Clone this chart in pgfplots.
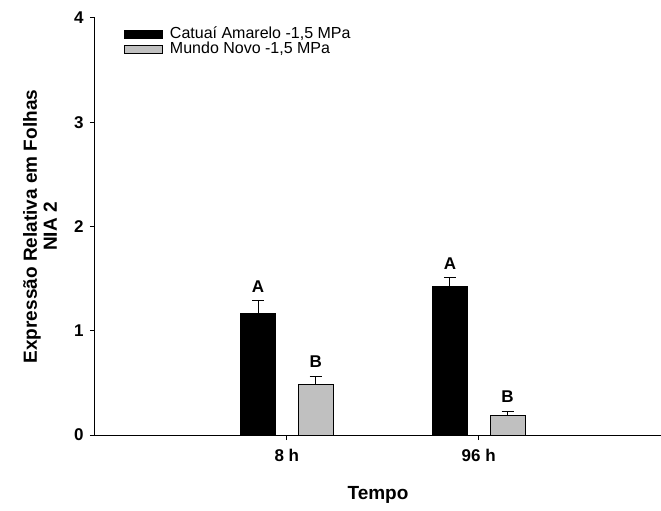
\documentclass[border=0pt]{standalone}
\usepackage{fontspec}
\setmainfont{Liberation Sans}
\usepackage{pgfplots}
\pgfplotsset{compat=1.18}
\definecolor{BarGray}{HTML}{C0C0C0}

\begin{document}
\begin{tikzpicture}
\useasboundingbox (-95pt,-76pt) rectangle (566pt,435pt);
\begin{axis}[
  at={(0,0)}, anchor=south west,
  scale only axis,
  width=566pt, height=417pt,
  xmin=0, xmax=2.95,
  ymin=0, ymax=4,
  axis lines=left,
  axis line style={-, line width=1pt},
  tick style={black, line width=1pt},
  tick align=outside,
  major tick length=5pt,
  xtick={1,2},
  xticklabels={8 h,96 h},
  ytick={0,1,2,3,4},
  minor tick num=0,
  /pgf/number format/assume math mode=true,
  tick label style={font=\bfseries\fontsize{17}{17}\selectfont},
  xticklabel style={yshift=-6pt},
  yticklabel style={xshift=-3pt},
  xlabel={Tempo},
  ylabel={Expressão Relativa em Folhas\\NIA 2},
  label style={font=\bfseries\fontsize{19}{20}\selectfont},
  xlabel style={at={(axis description cs:0.5,0)}, anchor=center, yshift=-60pt},
  ylabel style={at={(axis description cs:0,0.5)}, anchor=center, yshift=55pt, align=center},
  bar width=0.182,
  legend style={
    at={(axis description cs:0,1)}, anchor=north west,
    xshift=26pt, yshift=-7pt,
    draw=none, fill=none,
    font=\fontsize{16}{16}\selectfont,
    row sep=0pt,
    legend cell align=left,
    nodes={inner xsep=7pt, inner ysep=0.5pt, text height=11pt, text depth=3pt},
  },
  legend image code/.code={\draw[#1, line width=0.8pt] (0pt,-4pt) rectangle (38pt,4pt);},
]
\addplot[ybar, bar shift=0, fill=black, draw=black, line width=0.8pt,
  error bars/.cd, y dir=plus, y explicit,
  error bar style={black, line width=1pt},
  error mark options={black, line width=1pt, mark size=6pt, rotate=90}]
  coordinates {(0.85,1.167) +- (0,0.121) (1.85,1.429) +- (0,0.080)};
\addlegendentry{Catuaí Amarelo -1,5 MPa}
\addplot[ybar, bar shift=0, fill=BarGray, draw=black, line width=0.8pt,
  error bars/.cd, y dir=plus, y explicit,
  error bar style={black, line width=1pt},
  error mark options={black, line width=1pt, mark size=6pt, rotate=90}]
  coordinates {(1.15,0.489) +- (0,0.070) (2.15,0.185) +- (0,0.040)};
\addlegendentry{Mundo Novo -1,5 MPa}
\node[font=\bfseries\fontsize{17}{17}\selectfont] at (axis cs:0.85,1.423) {A};
\node[font=\bfseries\fontsize{17}{17}\selectfont] at (axis cs:1.15,0.703) {B};
\node[font=\bfseries\fontsize{17}{17}\selectfont] at (axis cs:1.85,1.647) {A};
\node[font=\bfseries\fontsize{17}{17}\selectfont] at (axis cs:2.15,0.367) {B};
\end{axis}
\end{tikzpicture}
\end{document}
